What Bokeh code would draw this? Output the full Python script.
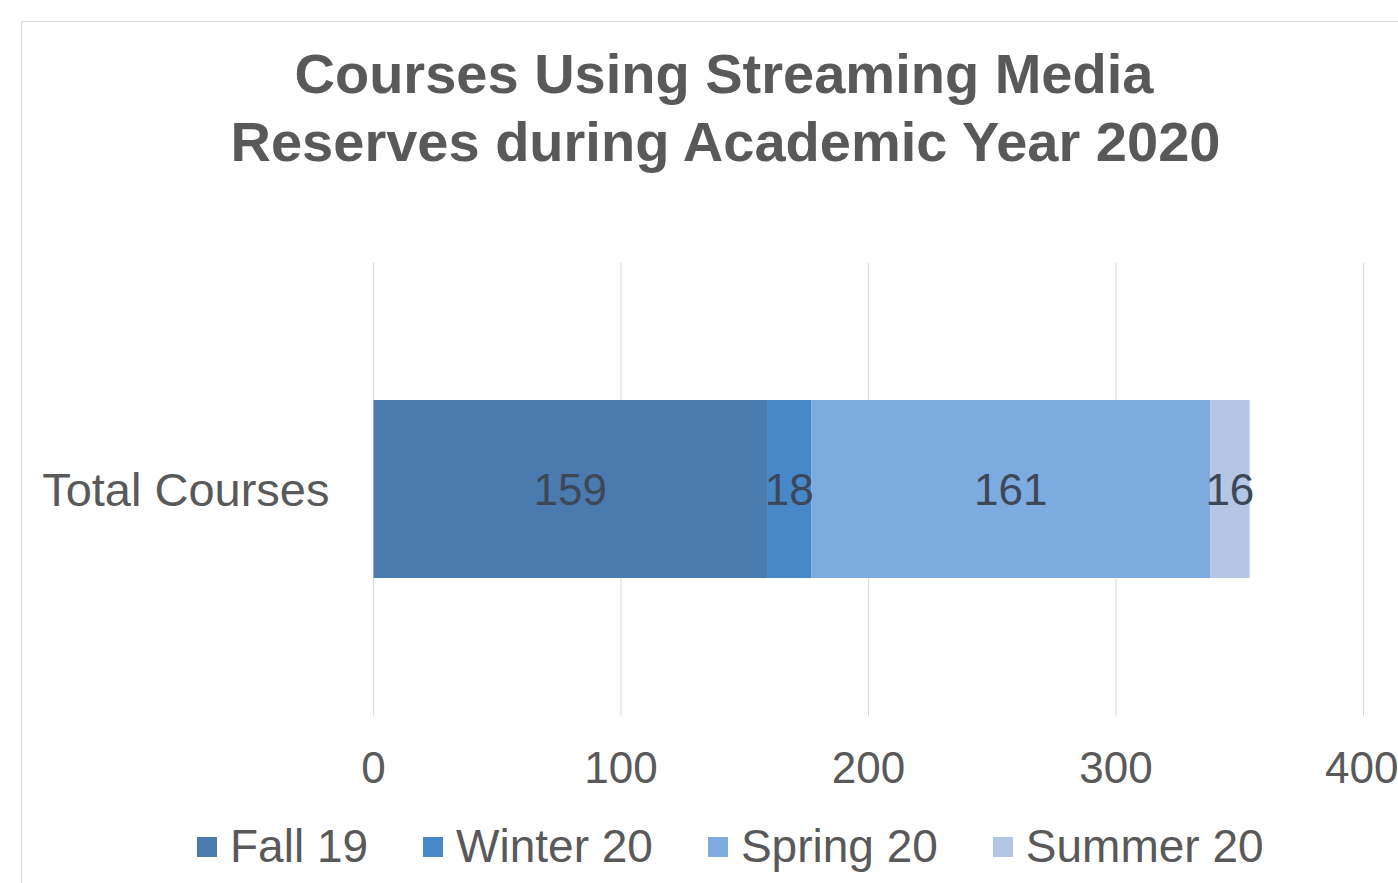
from bokeh.plotting import figure
from bokeh.models import (ColumnDataSource, Range1d, FixedTicker, Legend,
                          LegendItem, Title)
from bokeh.core.properties import value
from bokeh.embed import file_html
from bokeh.resources import INLINE

# ---- data ----
categories = ["Total Courses"]
series = ["Fall 19", "Winter 20", "Spring 20", "Summer 20"]
fall19 = [159]
winter20 = [18]
spring20 = [161]
summer20 = [16]
x_ticks = [0, 100, 200, 300, 400]
title_lines = ["Courses Using Streaming Media", "Reserves during Academic Year 2020"]

colors = ["#4a7aae", "#4887c8", "#7eabdf", "#b4c6e6"]
FONT = "Liberation Sans"

# each category occupies a band of height 1 (centre at i + 0.5)
cat_pos = [i + 0.5 for i in range(len(categories))]

src = ColumnDataSource(data={
    "y": cat_pos,
    "Fall 19": fall19,
    "Winter 20": winter20,
    "Spring 20": spring20,
    "Summer 20": summer20,
})

# frame spans the full chart width/height below the title; value 0 sits
# 351px from the chart's left edge, the plot band is 453px tall
PX_PER_UNIT = 990 / 400
BAND_PX = 453
p = figure(
    x_range=Range1d(-351 / PX_PER_UNIT, (1376 - 351) / PX_PER_UNIT),
    y_range=Range1d(-(621 - BAND_PX) / BAND_PX, len(categories)),
    frame_width=1376, frame_height=621,
    min_border_left=0, min_border_right=0,
    min_border_top=240, min_border_bottom=0,
    output_backend="svg", toolbar_location=None,
    background_fill_color="white", border_fill_color="white",
)
p.title = None
p.outline_line_color = None
p.margin = (21, 0, 0, 21)
p.styles = {"border-left": "1px solid #d9d9d9", "border-top": "1px solid #d9d9d9"}

# gridlines limited to the plot band
p.xgrid.visible = False
p.ygrid.visible = False
p.segment(x0=x_ticks, y0=[0] * len(x_ticks), x1=x_ticks, y1=[len(categories)] * len(x_ticks),
          line_color="#d9d9d9", line_width=1)

renderers = p.hbar_stack(series, y="y", height=0.393, color=colors,
                         line_color=None, source=src)

# data labels at segment centers
vals = [fall19[0], winter20[0], spring20[0], summer20[0]]
mids = []
acc = 0
for v in vals:
    mids.append(acc + v / 2)
    acc += v
p.text(x=mids, y=[cat_pos[0]] * len(vals), text=[str(v) for v in vals],
       text_font=value(FONT), text_font_size="44px", text_color="#3c4858",
       text_align="center", text_baseline="middle")

# x axis drawn at the bottom of the plot band
p.xaxis.fixed_location = 0
p.xaxis.ticker = FixedTicker(ticks=x_ticks)
p.xaxis.axis_line_color = None
p.xaxis.major_tick_line_color = None
p.xaxis.minor_tick_line_color = None
p.xaxis.major_label_text_font = FONT
p.xaxis.major_label_text_font_size = "44px"
p.xaxis.major_label_text_color = "#595959"
p.xaxis.major_label_standoff = 30

# category axis drawn at value 0
p.yaxis.fixed_location = 0
p.yaxis.ticker = FixedTicker(ticks=cat_pos)
p.yaxis.major_label_overrides = {pos: c for pos, c in zip(cat_pos, categories)}
p.yaxis.axis_line_color = None
p.yaxis.major_tick_line_color = None
p.yaxis.minor_tick_line_color = None
p.yaxis.major_label_text_font = FONT
p.yaxis.major_label_text_font_size = "47px"
p.yaxis.major_label_text_color = "#595959"
p.yaxis.major_label_standoff = 38

# legend inside the frame, under the axis labels
items = [LegendItem(label=s, renderers=[r]) for s, r in zip(series, renderers)]
legend = Legend(items=items, orientation="horizontal", location=(172, 10),
                label_text_font=FONT, label_text_font_size="46px",
                label_text_color="#595959", glyph_width=25, glyph_height=25,
                label_standoff=11, spacing=52, padding=0, margin=0,
                border_line_color=None, background_fill_alpha=0)
p.add_layout(legend, "center")

# title: spacer nearest the frame, then the two lines
p.add_layout(Title(text=".", standoff=80, text_font=FONT, text_font_size="10px",
                   text_color="white"), "above")
p.add_layout(Title(text=title_lines[1], align="left", offset=208, standoff=0,
                   text_font=FONT, text_font_size="56px", text_font_style="bold",
                   text_color="#595959"), "above")
p.add_layout(Title(text=title_lines[0], align="left", offset=272, standoff=6,
                   text_font=FONT, text_font_size="56px", text_font_style="bold",
                   text_color="#595959"), "above")

open("out.html", "w").write(file_html(p, INLINE))
